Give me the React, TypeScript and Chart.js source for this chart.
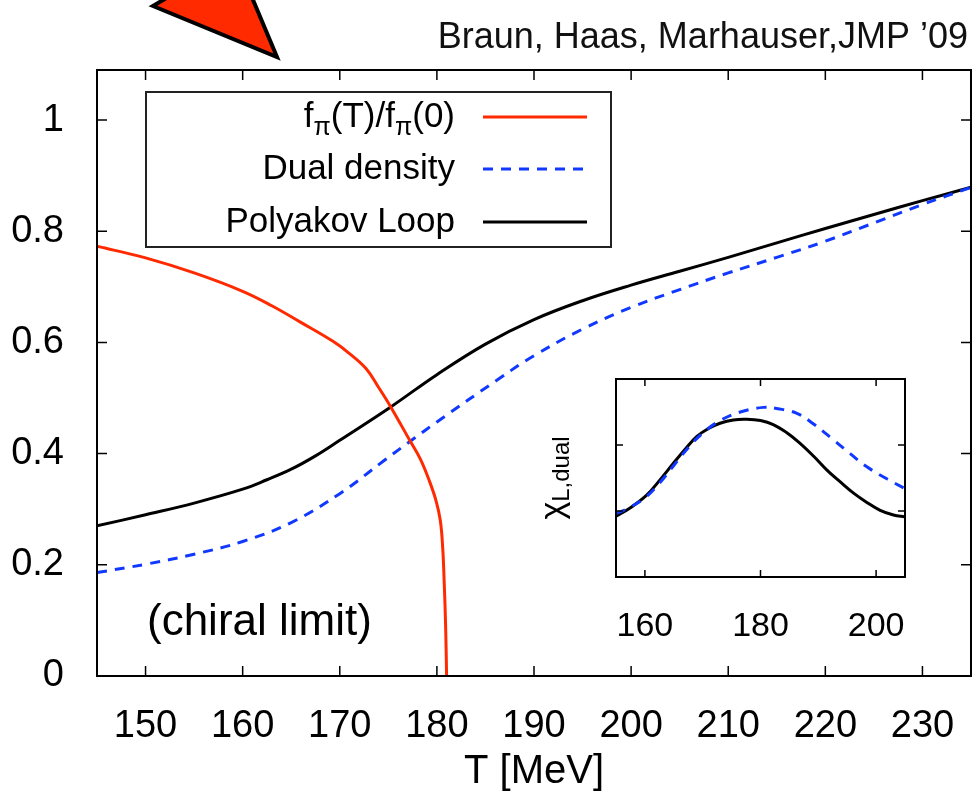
import React, { useEffect, useRef } from "react";
import { Chart, registerables } from "chart.js";

Chart.register(...registerables);

const FONT = '"Liberation Sans", Arial, Helvetica, sans-serif';
const RED = "#ff2a00";
const BLUE = "#1038ff";
const BLACK = "#000000";

// ---- main plot data ----
const X_TICKS = [150, 160, 170, 180, 190, 200, 210, 220, 230];
const Y_TICKS = [0, 0.2, 0.4, 0.6, 0.8, 1];

const FPI_T = [145, 150, 155, 160, 163, 165.9, 169.3, 171, 172.7, 174, 175.25, 177.2, 178.3, 179.2, 179.9, 180.35, 180.6, 180.75, 180.9, 181.0, 181.03];
const FPI_V = [0.773, 0.752, 0.725, 0.692, 0.666, 0.637, 0.602, 0.58, 0.553, 0.519, 0.484, 0.424, 0.39, 0.352, 0.316, 0.28, 0.23, 0.17, 0.09, 0.0, -0.03];

const DUAL_T = [145, 150, 155, 160, 165, 170, 174.6, 177.7, 180, 186.5, 190, 195, 200, 205, 210, 215, 220, 225, 230, 235];
const DUAL_V = [0.186, 0.201, 0.219, 0.242, 0.276, 0.328, 0.388, 0.428, 0.457, 0.536, 0.576, 0.624, 0.663, 0.695, 0.725, 0.753, 0.782, 0.815, 0.848, 0.879];

const POLY_T = [145, 150, 155, 160, 162.5, 165, 167.5, 170, 175.25, 180, 185, 190, 195, 200, 205, 210, 215, 220, 225, 230, 235];
const POLY_V = [0.27, 0.29, 0.311, 0.336, 0.353, 0.372, 0.396, 0.424, 0.484, 0.542, 0.597, 0.641, 0.675, 0.703, 0.728, 0.753, 0.779, 0.805, 0.83, 0.855, 0.879];

// ---- inset data ----
const INSET_X_TICKS = [160, 180, 200];
const INSET_Y_TICKS = [1, 2];
const INSET_POLY_T = [155, 157.5, 160.3, 162.5, 164.9, 167, 169, 171, 173, 175.3, 177.6, 180, 182.2, 184.5, 186.8, 189.2, 191.5, 193.8, 196.1, 198.4, 200.7, 203, 205];
const INSET_POLY_V = [0.92, 1.05, 1.24, 1.46, 1.72, 1.94, 2.13, 2.25, 2.33, 2.38, 2.39, 2.37, 2.31, 2.19, 2.03, 1.83, 1.62, 1.44, 1.27, 1.13, 1.01, 0.94, 0.91];
const INSET_DUAL_T = [155, 157.5, 160, 162.5, 165, 167.5, 170, 173, 176.5, 180.5, 183, 186.3, 189, 192.6, 195.5, 198.4, 202, 205];
const INSET_DUAL_V = [0.96, 1.06, 1.2, 1.42, 1.69, 1.96, 2.18, 2.37, 2.5, 2.57, 2.55, 2.48, 2.33, 2.08, 1.87, 1.67, 1.48, 1.34];

const LEGEND_ROWS = [
  { parts: [["f", 0], ["π", 1], ["(T)/f", 0], ["π", 1], ["(0)", 0]], color: RED, dash: [] as number[] },
  { parts: [["Dual density", 0]], color: BLUE, dash: [10, 8] },
  { parts: [["Polyakov Loop", 0]], color: BLACK, dash: [] as number[] },
];

const TITLE_TEXT = "Braun, Haas, Marhauser,JMP \u201909";
const NOTE_TEXT = "(chiral limit)";

const pts = (xs: number[], ys: number[]) => xs.map((x, i) => ({ x, y: ys[i] }));

const framePlugin = {
  id: "frame",
  afterDatasetsDraw(chart: any, _args: any, opts: any) {
    const { ctx, chartArea: a, scales } = chart;
    const L = opts.tickLen;
    ctx.save();
    ctx.strokeStyle = "#000";
    ctx.lineWidth = 1.5;
    ctx.beginPath();
    for (const v of opts.xTicks) {
      const px = scales.x.getPixelForValue(v);
      ctx.moveTo(px, a.bottom);
      ctx.lineTo(px, a.bottom - L);
      ctx.moveTo(px, a.top);
      ctx.lineTo(px, a.top + L);
    }
    for (const v of opts.yTicks) {
      const py = scales.y.getPixelForValue(v);
      ctx.moveTo(a.left, py);
      ctx.lineTo(a.left + L, py);
      ctx.moveTo(a.right, py);
      ctx.lineTo(a.right - L, py);
    }
    ctx.stroke();
    ctx.lineWidth = 2;
    ctx.strokeRect(a.left, a.top, a.right - a.left, a.bottom - a.top);
    ctx.restore();
  },
};

const decoPlugin = {
  id: "deco",
  afterDraw(chart: any) {
    const { ctx } = chart;
    ctx.save();
    // arrow
    ctx.beginPath();
    ctx.moveTo(235, -43);
    ctx.lineTo(153, 6);
    ctx.lineTo(277, 57);
    ctx.closePath();
    ctx.fillStyle = RED;
    ctx.fill();
    ctx.lineWidth = 4;
    ctx.lineJoin = "miter";
    ctx.strokeStyle = "#000";
    ctx.stroke();

    // title
    ctx.fillStyle = "#111";
    ctx.font = `36px ${FONT}`;
    ctx.textAlign = "right";
    ctx.textBaseline = "alphabetic";
    ctx.fillText(TITLE_TEXT, 968, 48);

    // chiral limit
    ctx.textAlign = "left";
    ctx.font = `44px ${FONT}`;
    ctx.fillStyle = "#000";
    ctx.fillText(NOTE_TEXT, 147, 635);

    // legend box
    ctx.fillStyle = "#fff";
    ctx.fillRect(146, 92, 465, 155);
    ctx.strokeStyle = "#222";
    ctx.lineWidth = 2;
    ctx.strokeRect(146, 92, 465, 155);
    const rowsY = [117, 169, 222];
    const bigF = `35px ${FONT}`;
    const subF = `25px ${FONT}`;
    LEGEND_ROWS.forEach((row, i) => {
      const y = rowsY[i];
      let total = 0;
      for (const [t, s] of row.parts as any) {
        ctx.font = s ? subF : bigF;
        total += ctx.measureText(t).width;
      }
      let x = 455 - total;
      ctx.textAlign = "left";
      ctx.textBaseline = "middle";
      ctx.fillStyle = "#000";
      for (const [t, s] of row.parts as any) {
        ctx.font = s ? subF : bigF;
        ctx.fillText(t, x, s ? y + 11 : y);
        x += ctx.measureText(t).width;
      }
      ctx.beginPath();
      ctx.setLineDash(row.dash);
      ctx.strokeStyle = row.color;
      ctx.lineWidth = 3;
      ctx.moveTo(483, y);
      ctx.lineTo(587, y);
      ctx.stroke();
      ctx.setLineDash([]);
    });
    ctx.restore();
  },
};

const insetBgPlugin = {
  id: "insetBg",
  beforeDatasetsDraw(chart: any) {
    const { ctx, chartArea: a } = chart;
    ctx.save();
    ctx.fillStyle = "#fff";
    ctx.fillRect(a.left, a.top, a.right - a.left, a.bottom - a.top);
    ctx.restore();
  },
  afterDraw(chart: any) {
    const { ctx } = chart;
    ctx.save();
    ctx.translate(15, 108);
    ctx.rotate(-Math.PI / 2);
    ctx.fillStyle = "#000";
    ctx.textBaseline = "alphabetic";
    ctx.textAlign = "left";
    ctx.font = `34px ${FONT}`;
    const chi = "\u03c7";
    const sub = "L,dual";
    const w1 = ctx.measureText(chi).width;
    ctx.font = `24px ${FONT}`;
    const w2 = ctx.measureText(sub).width;
    const x0 = -(w1 + w2) / 2;
    ctx.font = `34px ${FONT}`;
    ctx.fillText(chi, x0, 8);
    ctx.font = `24px ${FONT}`;
    ctx.fillText(sub, x0 + w1, 14);
    ctx.restore();
  },
};

const lineDs = (label: string, data: any, color: string, dash: number[]) => ({
  label,
  data,
  borderColor: color,
  backgroundColor: color,
  borderWidth: 3,
  borderDash: dash,
  pointRadius: 0,
  fill: false,
  tension: 0.4,
  cubicInterpolationMode: "default" as const,
});

const noPad = (s: any) => {
  s.paddingLeft = 0;
  s.paddingRight = 0;
  s.paddingTop = 0;
  s.paddingBottom = 0;
};

export default function App() {
  const mainRef = useRef<HTMLCanvasElement | null>(null);
  const insetRef = useRef<HTMLCanvasElement | null>(null);

  useEffect(() => {
    const main = new Chart(mainRef.current!, {
      type: "line",
      data: {
        datasets: [
          lineDs("fπ(T)/fπ(0)", pts(FPI_T, FPI_V), RED, []),
          lineDs("Dual density", pts(DUAL_T, DUAL_V), BLUE, [10, 8]),
          lineDs("Polyakov Loop", pts(POLY_T, POLY_V), BLACK, []),
        ],
      },
      options: {
        animation: false,
        responsive: false,
        maintainAspectRatio: false,
        layout: { padding: { top: 70, right: 5, left: 0, bottom: 0 } },
        scales: {
          x: {
            type: "linear",
            min: 145,
            max: 235,
            grid: { display: false },
            border: { display: false },
            afterBuildTicks: (s: any) => {
              s.ticks = X_TICKS.map((v) => ({ value: v }));
            },
            afterFit: (s: any) => {
              s.height = 121;
              noPad(s);
            },
            ticks: {
              font: { family: FONT, size: 38 },
              color: "#000",
              padding: 20,
              maxRotation: 0,
              autoSkip: false,
              callback: (v: any) => String(v),
            },
            title: {
              display: true,
              text: "T [MeV]",
              font: { family: FONT, size: 40 },
              color: "#000",
              padding: { top: 0, bottom: 1 },
            },
          },
          y: {
            type: "linear",
            min: 0,
            max: 1.09,
            grid: { display: false },
            border: { display: false },
            afterBuildTicks: (s: any) => {
              s.ticks = Y_TICKS.map((v) => ({ value: v }));
            },
            afterFit: (s: any) => {
              s.width = 97;
              noPad(s);
            },
            ticks: {
              font: { family: FONT, size: 38 },
              color: "#000",
              padding: 25,
              autoSkip: false,
              callback: (v: any) => String(v),
            },
          },
        },
        plugins: {
          legend: { display: false },
          tooltip: { enabled: false },
          frame: { tickLen: 10, xTicks: X_TICKS, yTicks: Y_TICKS },
        } as any,
      },
      plugins: [framePlugin, decoPlugin],
    });

    const inset = new Chart(insetRef.current!, {
      type: "line",
      data: {
        datasets: [
          lineDs("Dual density", pts(INSET_DUAL_T, INSET_DUAL_V), BLUE, [10, 8]),
          lineDs("Polyakov Loop", pts(INSET_POLY_T, INSET_POLY_V), BLACK, []),
        ],
      },
      options: {
        animation: false,
        responsive: false,
        maintainAspectRatio: false,
        layout: { padding: { top: 9, right: 15, left: 0, bottom: 0 } },
        scales: {
          x: {
            type: "linear",
            min: 155,
            max: 205,
            grid: { display: false },
            border: { display: false },
            afterBuildTicks: (s: any) => {
              s.ticks = INSET_X_TICKS.map((v) => ({ value: v }));
            },
            afterFit: (s: any) => {
              s.height = 63;
              noPad(s);
            },
            ticks: {
              font: { family: FONT, size: 34 },
              color: "#000",
              padding: 21,
              maxRotation: 0,
              autoSkip: false,
              callback: (v: any) => String(v),
            },
          },
          y: {
            type: "linear",
            min: 0,
            max: 3,
            grid: { display: false },
            border: { display: false },
            afterBuildTicks: (s: any) => {
              s.ticks = INSET_Y_TICKS.map((v) => ({ value: v }));
            },
            afterFit: (s: any) => {
              s.width = 76;
              noPad(s);
            },
            ticks: { display: false },
          },
        },
        plugins: {
          legend: { display: false },
          tooltip: { enabled: false },
          frame: { tickLen: 7, xTicks: INSET_X_TICKS, yTicks: INSET_Y_TICKS },
        } as any,
      },
      plugins: [insetBgPlugin, framePlugin],
    });

    return () => {
      main.destroy();
      inset.destroy();
    };
  }, []);

  return (
    <div style={{ position: "absolute", left: 0, top: 0, width: 976, height: 797, background: "#fff" }}>
      <canvas
        ref={mainRef}
        width={976}
        height={797}
        style={{ position: "absolute", left: 0, top: 0, width: 976, height: 797 }}
      />
      <canvas
        ref={insetRef}
        width={380}
        height={270}
        style={{ position: "absolute", left: 540, top: 370, width: 380, height: 270 }}
      />
    </div>
  );
}
